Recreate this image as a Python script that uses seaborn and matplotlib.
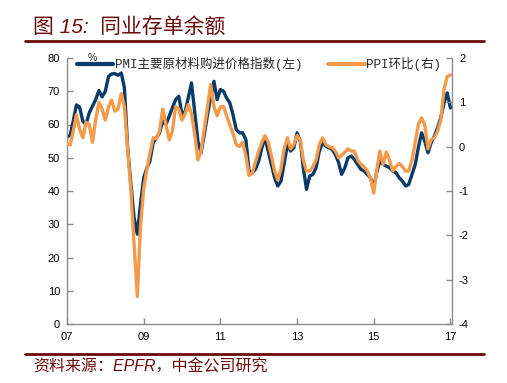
import numpy as np
import pandas as pd
import matplotlib
matplotlib.use("Agg")
import matplotlib.pyplot as plt
import seaborn as sns
from matplotlib.lines import Line2D

sns.set_style("ticks")
plt.rcParams["font.family"] = ["Liberation Sans", "Noto Sans CJK SC", "DejaVu Sans"]
plt.rcParams["axes.unicode_minus"] = False

# monthly, 2007-01 .. 2017-01
months = pd.date_range("2007-01-01", "2017-01-01", freq="MS")

pmi_price = [
    56.3, 56.8, 61.0, 65.9, 65.2, 61.0, 60.0, 63.5, 65.5, 67.5, 70.2, 68.3,
    70.0, 74.5, 75.2, 75.3, 74.8, 75.5, 71.0, 53.0, 42.0, 32.0, 27.0, 36.0,
    44.0, 47.0, 49.0, 54.5, 56.0, 57.5, 61.0, 60.0, 62.5, 65.0, 67.5, 68.5,
    63.0, 64.0, 68.0, 72.5, 64.0, 55.0, 51.5, 57.0, 63.0, 68.0, 73.0, 67.5,
    70.5, 70.0, 68.0, 66.5, 63.0, 58.5, 57.5, 57.5, 55.5, 46.0, 45.5, 46.5,
    49.0, 53.0, 56.0, 52.0, 48.0, 44.0, 41.5, 43.0, 48.5, 54.0, 52.0, 53.0,
    57.5, 55.0, 47.0, 40.5, 44.5, 45.0, 47.0, 52.0, 54.5, 53.5, 53.0, 52.5,
    51.0, 48.5, 45.0, 47.0, 50.0, 50.5, 49.5, 48.0, 46.5, 46.0, 45.0, 44.0,
    41.0, 46.0, 49.0, 48.0, 47.5, 47.0, 46.0, 45.5, 44.0, 43.0, 41.5, 42.0,
    45.0, 48.0, 53.0, 57.5, 55.0, 51.5, 54.5, 56.5, 59.0, 62.0, 66.5, 69.5,
    65.0,
]

ppi_mom = [
    0.08, 0.04, 0.35, 0.72, 0.40, 0.20, 0.55, 0.50, 0.10, 0.60, 1.00, 0.85,
    0.60, 0.90, 1.05, 0.80, 0.85, 1.20, 0.90, -0.05, -1.00, -2.20, -3.38, -1.80,
    -0.95, -0.50, -0.15, 0.20, 0.18, 0.35, 0.85, 0.50, 0.15, 0.35, 0.90, 0.85,
    0.60, 0.75, 0.95, 0.75, 0.30, -0.30, -0.10, 0.40, 0.90, 1.40, 0.90, 0.70,
    0.90, 0.90, 0.70, 0.50, 0.30, 0.05, 0.00, 0.10, -0.20, -0.65, -0.60, -0.35,
    -0.10, 0.10, 0.25, 0.10, -0.20, -0.55, -0.75, -0.50, -0.05, 0.20, -0.05, 0.05,
    0.25, 0.15, -0.30, -0.55, -0.55, -0.45, -0.30, 0.05, 0.20, 0.05, 0.00, -0.02,
    -0.10, -0.25, -0.20, -0.12, -0.05, -0.10, -0.10, -0.30, -0.40, -0.45, -0.55, -0.70,
    -1.05, -0.50, -0.10, -0.40, -0.12, -0.30, -0.55, -0.45, -0.38, -0.45, -0.55, -0.55,
    -0.30, 0.10, 0.50, 0.65, 0.50, -0.05, 0.15, 0.20, 0.35, 0.60, 1.30, 1.58,
    1.62,
]

series_labels = ["PMI主要原材料购进价格指数(左)", "PPI环比(右)"]
year_ticks = ["2007-01-01", "2009-01-01", "2011-01-01", "2013-01-01", "2015-01-01", "2017-01-01"]
year_labels = ["07", "09", "11", "13", "15", "17"]

df = pd.DataFrame({"month": months, "pmi": pmi_price, "ppi": ppi_mom})

blue = "#0A3A6A"
orange = "#F59A4A"
dark_red = "#6B0A0A"
grey = "#8C8C8C"

fig = plt.figure(figsize=(5.07, 3.83), dpi=100)
ax = fig.add_axes([67 / 507, 1 - 324 / 383, (452 - 67) / 507, (324 - 58) / 383])
ax2 = ax.twinx()

sns.lineplot(data=df, x="month", y="pmi", ax=ax, color=blue, lw=2.4, legend=False)
sns.lineplot(data=df, x="month", y="ppi", ax=ax2, color=orange, lw=2.4, legend=False)

ax.set_ylim(0, 80)
ax.set_yticks(np.arange(0, 81, 10))
ax2.set_ylim(-4, 2)
ax2.set_yticks(np.arange(-4, 3, 1))
ax.set_xlim(pd.Timestamp("2007-01-01"), pd.Timestamp("2017-01-16"))
ax.set_xticks(pd.to_datetime(year_ticks))
ax.set_xticklabels(year_labels)
ax.set_xlabel("")
ax.set_ylabel("")
ax2.set_ylabel("")

for a in (ax, ax2):
    a.spines["top"].set_visible(False)
    for s in ("left", "right", "bottom"):
        a.spines[s].set_color(grey)
        a.spines[s].set_linewidth(1.0)
    a.tick_params(direction="in", length=4, width=1, color=grey,
                  labelsize=8, labelcolor="#000000", pad=5)
    a.grid(False)
ax.spines["right"].set_visible(False)
ax2.spines["left"].set_visible(False)
ax2.spines["bottom"].set_visible(False)
ax.tick_params(axis="x", pad=6)

fig.text(92 / 507, 1 - 58 / 383, "%", fontsize=7.5, ha="center", va="center")

handles = [Line2D([], [], color=blue, lw=3), Line2D([], [], color=orange, lw=3)]
fig.legend(handles, series_labels, loc="center left", ncol=2,
           bbox_to_anchor=(77 / 507, 1 - 64 / 383), frameon=False,
           handlelength=2.9, handletextpad=0.1, columnspacing=2.1,
           borderaxespad=0, borderpad=0,
           prop={"family": ["Liberation Mono", "Noto Sans CJK SC"], "size": 9})

# header and footer
fig.text(33 / 507, 1 - 27 / 383, "图 15:  同业存单余额", fontsize=15, color=dark_red,
         ha="left", va="center", style="italic")
fig.add_artist(Line2D([25 / 507, 484 / 507], [1 - 41 / 383, 1 - 41 / 383],
                      color=dark_red, lw=2))
fig.add_artist(Line2D([25 / 507, 484 / 507], [1 - 354 / 383, 1 - 354 / 383],
                      color=dark_red, lw=2))
fig.text(33 / 507, 1 - 367 / 383, "资料来源：EPFR，中金公司研究", fontsize=11.5,
         color=dark_red, ha="left", va="center", style="italic")

fig.savefig("out.png", dpi=100)
